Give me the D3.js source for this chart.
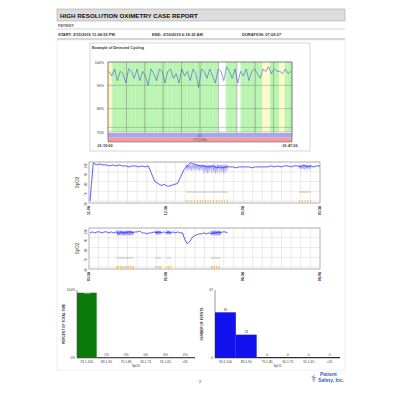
<!DOCTYPE html><html><head><meta charset="utf-8"><script src="https://cdn.jsdelivr.net/npm/d3@7"></script>
<style>body{margin:0;background:#fff}svg{font-family:Arial,"Liberation Sans",sans-serif}</style></head><body><svg id="c" width="400" height="400"></svg>
<script>
// ---------- data ----------
const cycleVals=[96,94,97,92,96,95,91,97,96,93,97,92,96,94,90,97,95,92,97,96,91,96,97,93,95,91,97,94,96,92,97,95,89,97,96,93,97,94,91,97,96,92,98,96,93,97,91,96,94,97,92,96,97,95,93,97,96,98,95,97,96,96,95,97,95,96];
const cycleBands=[[0,2,"#fff9c4"],[2,60,"#b9f5b0"],[60,64,"#ffffff"],[64,70,"#b9f5b0"],[70,72,"#ffffff"],[72,84,"#b9f5b0"],[84,88,"#fff9c4"],[88,93,"#b9f5b0"],[93,96,"#fff9c4"],[96,100,"#b9f5b0"]];
const cycleYTicks=[100,90,80,70];
const cycleXLabels=["01:19:00","01:47:00"];
const trend1=[60,99,97,98,97,97,96,97,96,97,96,96,95,96,96,95,96,95,96,88,80,78,76,77,75,76,77,78,85,92,96,99,98,97,96,96,95,95,96,94,95,94,95,95,95,94,95,95,95,95,94,95,95,95,95,95,96,95,96,95,96,96,95,96,96,95,97,95,96,95,96,96];
const trend1Noise=[[42,49,4],[49,60,7],[91,96,3]];
const trend2=[95,96,95,96,96,95,96,96,95,96,95,96,94,96,95,95,96,96,95,96,96,97,95,95,94,95,95,96,95,96,95,96,95,96,95,96,95,96,95,95,88,84,86,90,92,93,94,94,95,94,95,94,95,95,96,95,96,96,95];
const trend2Noise=[[20,32,3],[48,52,2],[56,59,2],[88,95,3]];
const trendYTicks=[100,90,80,70,60];
const trend1X=["11:08","12:38","02:08","03:38"];
const trend2X=["03:38","05:08","06:38","08:08"];
const hist1Cats=["93.1-100","83.1-90","75.1-80","65.1-75","55.1-65","<55"];
const hist1Vals=[96,1,0,0,0,0];
const hist2Cats=["90.1-100","83.1-90","75.1-80","65.1-75","55.1-65","<55"];
const hist2Vals=[45,23,0,0,0,0];
// ---------- drawing ----------
const svg=d3.select("#c");
const T=(x,y,s,o={})=>svg.append("text").attr("x",x).attr("y",y).text(s).attr("font-size",o.fs||4).attr("font-weight",o.fw||"normal").attr("fill",o.fill||"#333").attr("text-anchor",o.a||"start").attr("transform",o.r?`rotate(${o.r},${x},${y})`:null);
svg.append("rect").attr("x",57).attr("y",9).attr("width",288).attr("height",12).attr("fill","#ddd").attr("stroke","#999").attr("stroke-width",.5);
T(60,18,"HIGH RESOLUTION OXIMETRY CASE REPORT",{fs:6.2,fw:"bold",fill:"#111"});
T(58,27,"PATIENT:",{fs:3.8,fw:"bold",fill:"#666"});
svg.append("line").attr("x1",57).attr("x2",345).attr("y1",29).attr("y2",29).attr("stroke","#aaa").attr("stroke-width",.5);
T(58,36,"START:  2/15/2019 11:08:55 PM",{fs:4,fw:"bold"});
T(152,36,"END:  2/16/2019 6:18:22 AM",{fs:4,fw:"bold"});
T(242,36,"DURATION:  07:09:27",{fs:4,fw:"bold"});
svg.append("line").attr("x1",57).attr("x2",345).attr("y1",39).attr("y2",39).attr("stroke","#888").attr("stroke-width",.7);
svg.append("rect").attr("x",57).attr("y",40).attr("width",288).attr("height",330).attr("fill","none").attr("stroke","#ddd").attr("stroke-width",.5);
// cycling example
svg.append("rect").attr("x",90).attr("y",43).attr("width",220).attr("height",108).attr("fill","none").attr("stroke","#bbb").attr("stroke-width",.6);
T(92,49,"Example of Detected Cycling",{fs:3.8,fw:"bold"});
const cx=d3.scaleLinear().domain([0,100]).range([108,292]);
const cy=d3.scaleLinear().domain([70,100]).range([132,62]);
cycleBands.forEach(b=>svg.append("rect").attr("x",cx(b[0])).attr("y",62).attr("width",cx(b[1])-cx(b[0])).attr("height",70).attr("fill",b[2]));
for(let i=0;i<=100;i+=2.5){svg.append("line").attr("x1",cx(i)).attr("x2",cx(i)).attr("y1",62).attr("y2",138).attr("stroke",i%10==0?"#666":"#fff").attr("stroke-width",i%10==0?.5:.3).attr("opacity",.8);}
cycleYTicks.forEach(v=>{svg.append("line").attr("x1",108).attr("x2",292).attr("y1",cy(v)).attr("y2",cy(v)).attr("stroke","#777").attr("stroke-width",.4);T(104,cy(v)+1.5,v+"%",{fs:3.6,a:"end"});});
svg.append("line").attr("x1",108).attr("x2",292).attr("y1",cy(72)).attr("y2",cy(72)).attr("stroke","#777").attr("stroke-width",.4);
svg.append("rect").attr("x",108).attr("y",133).attr("width",184).attr("height",4.5).attr("fill","#a7a7f0");
svg.append("rect").attr("x",108).attr("y",137.5).attr("width",184).attr("height",4.5).attr("fill","#f59a9a");
T(200,136.5,"SDI",{fs:3,a:"middle",fill:"#555"});T(200,141,"CYCLING",{fs:3,a:"middle",fill:"#555"});
svg.append("rect").attr("x",108).attr("y",62).attr("width",184).attr("height",80).attr("fill","none").attr("stroke","#555").attr("stroke-width",.5);
const cxi=d3.scaleLinear().domain([0,cycleVals.length-1]).range([109,291]);
svg.append("path").datum(cycleVals).attr("d",d3.line().x((d,i)=>cxi(i)).y(d=>cy(d))).attr("fill","none").attr("stroke","#4455dd").attr("stroke-width",.6);
T(105,147,cycleXLabels[0],{fs:3.8,a:"middle",fw:"bold"});T(290,147,cycleXLabels[1],{fs:3.8,a:"middle",fw:"bold"});
// trends
function trend(y0,vals,noise,xl,frac){
 const x0=89,x1=320,h=41;
 const ty=d3.scaleLinear().domain([58,100]).range([y0+h,y0]);
 svg.append("rect").attr("x",x0).attr("y",y0).attr("width",x1-x0).attr("height",h).attr("fill","#fff").attr("stroke","#666").attr("stroke-width",.5);
 for(let i=1;i<24;i++){const x=x0+(x1-x0)*i/24;svg.append("line").attr("x1",x).attr("x2",x).attr("y1",y0).attr("y2",y0+h).attr("stroke","#ccc").attr("stroke-width",.4);}
 trendYTicks.forEach(v=>{svg.append("line").attr("x1",x0).attr("x2",x1).attr("y1",ty(v)).attr("y2",ty(v)).attr("stroke","#ccc").attr("stroke-width",.4);T(x0-2,ty(v)+1,v,{fs:3,a:"end",r:-90});});
 T(79,y0+h/2,"SpO2",{fs:4.5,a:"middle",r:-90,fill:"#444"});
 const tx=d3.scaleLinear().domain([0,100]).range([x0,x1]);
 const xi=d3.scaleLinear().domain([0,vals.length-1]).range([x0+1,tx(frac)]);
 const pat=[1,.4,.8,.2,.6,1,.3,.7,.5,.9];
 noise.forEach(n=>{let j=0;for(let k=n[0];k<n[1];k+=0.35,j++){const a=pat[j%10];svg.append("line").attr("x1",tx(k*frac/100)).attr("x2",tx(k*frac/100)).attr("y1",ty(96+a*1.5)).attr("y2",ty(95-n[2]*pat[(j+3)%10])).attr("stroke","#1a1aff").attr("stroke-width",.3);}});
 svg.append("path").datum(vals).attr("d",d3.line().x((d,i)=>xi(i)).y(d=>ty(d))).attr("fill","none").attr("stroke","#1a1aff").attr("stroke-width",.7);
 noise.forEach(n=>{svg.append("line").attr("x1",tx(n[0]*frac/100)).attr("x2",tx(n[1]*frac/100)).attr("y1",y0+h-11).attr("y2",y0+h-11).attr("stroke","#999").attr("stroke-width",.6);
   for(let k=n[0];k<n[1];k+=1.2)svg.append("rect").attr("x",tx(k*frac/100)).attr("y",y0+h-3).attr("width",.6).attr("height",2.5).attr("fill","#f0a020");});
 xl.forEach((s,i)=>T(x0+(x1-x0)*i/3+1,y0+h+3,s,{fs:3.6,a:"end",r:-90,fw:"bold"}));
}
trend(162,trend1,trend1Noise,trend1X,100);
trend(228,trend2,trend2Noise,trend2X,60);
// histograms
function hist(x0,x1,cats,vals,max,col,lbls,ylab,fmt){
 const y0=290,y1=358;
 const bx=d3.scaleBand().domain(cats).range([x0,x1]).padding(0);
 const by=d3.scaleLinear().domain([0,max]).range([y1,y0]);
 svg.append("line").attr("x1",x0).attr("x2",x0).attr("y1",y0).attr("y2",y1).attr("stroke","#333").attr("stroke-width",.5);
 svg.append("line").attr("x1",x0).attr("x2",x1).attr("y1",y1).attr("y2",y1).attr("stroke","#333").attr("stroke-width",.5);
 cats.forEach((c,i)=>{const v=vals[i];const yy=Math.min(by(v),y1-1);
  svg.append("rect").attr("x",bx(c)).attr("y",yy).attr("width",bx.bandwidth()).attr("height",y1-yy).attr("fill",col);
  T(bx(c)+bx.bandwidth()/2,i==0&&fmt=="%"?y0+3.5:yy-1.5,v+(fmt||""),{fs:3.2,a:"middle",fill:i==0&&fmt=="%"?"#fff":"#333"});
  T(bx(c)+bx.bandwidth()/2,y1+4.5,c,{fs:3.2,a:"middle"});});
 T(x0-2,y0+1,lbls[0],{fs:3.2,a:"end"});T(x0-2,y1+1,lbls[1],{fs:3.2,a:"end"});
 T(x0-12,(y0+y1)/2,ylab,{fs:3.2,fw:"bold",a:"middle",r:-90});
 T((x0+x1)/2,y1+9,"SpO2",{fs:3.2,a:"middle"});
}
hist(77,195,hist1Cats,hist1Vals,100,"#0a7a0a",["100%","0%"],"PERCENT OF TOTAL TIME","%");
hist(215,340,hist2Cats,hist2Vals,67,"#1212ee",["67","0"],"NUMBER OF EVENTS","");
T(200,383,"2",{fs:4,a:"middle"});
T(320,376,"Patient",{fs:5,fill:"#3366bb",fw:"bold"});T(318,382,"Safety, Inc.",{fs:5,fill:"#3366bb",fw:"bold"});
svg.append("text").attr("x",311).attr("y",382).text("⚕").attr("font-size",10).attr("fill","#3366bb");
</script></body></html>
